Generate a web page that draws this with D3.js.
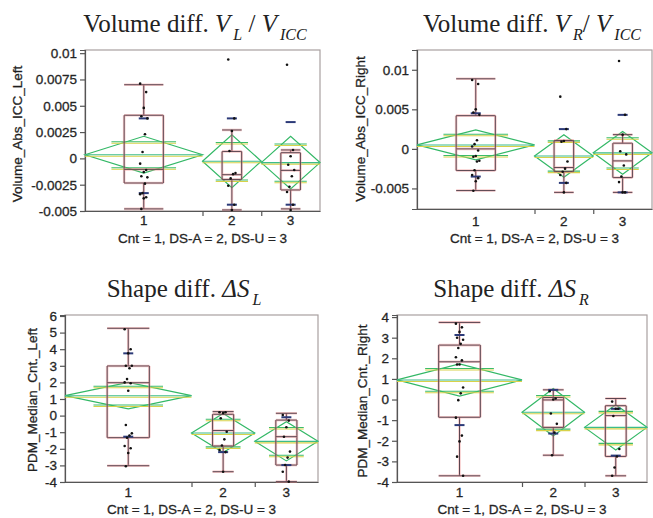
<!DOCTYPE html>
<html>
<head>
<meta charset="utf-8">
<script src="https://cdn.jsdelivr.net/npm/d3@7"></script>
<style>
body{margin:0;background:#fff}
svg{display:block}
.tick text,.lab{font-family:"Liberation Sans",Arial,sans-serif;font-size:13.5px;fill:#1e1e1e;stroke:#2a2a2a;stroke-width:0.3}
.title{font-family:"Liberation Serif","Times New Roman",serif;font-size:25px;fill:#222}
</style>
</head>
<body>
<svg id="chart" width="653" height="518"></svg>
<script>
// groups (x axis), widths follow group size like JMP does
var groups = ["1", "2", "3"];
var groupN = [20, 10, 10];
var xLabel = "Cnt = 1, DS-A  = 2, DS-U = 3";

// --- Volume diff left
var volLTicks = [-0.005, -0.0025, 0, 0.0025, 0.005, 0.0075, 0.01];
var volLBox = [
    {lo: -0.0048, q1: -0.00234, med: -0.00104, q3: 0.0041, hi: 0.007},
    {lo: -0.0049, q1: -0.002, med: -0.00155, q3: 0.00066, hi: 0.0027},
    {lo: -0.0048, q1: -0.003, med: -0.00114, q3: 0.00054, hi: 0.0008}
];
var volLQuant = [[0.0038, -0.0033], [0.0038, -0.0044], [0.00345, -0.0044]];
var volLMean = [0.00035, -0.00027, -0.0004];
var volLCI = [0.00175, 0.00252, 0.0025];
var volLPts = [
    [0.0071, 0.0063, 0.0048, 0.004, 0.0038, 0.0023, 0.0006, -0.0005, -0.0011, -0.0013, -0.0017, -0.0018, -0.0024, -0.0033, -0.0034, -0.0037, -0.0038, -0.0048],
    [0.0094, 0.0038, 0.0026, 0.0007, -0.0014, -0.0015, -0.0019, -0.0026, -0.0044, -0.0049],
    [0.0089, 0.0008, 0.0002, -0.0006, -0.0011, -0.0017, -0.0027, -0.0032, -0.0044, -0.0049]
];

// --- Volume diff right
var volRTicks = [-0.005, 0, 0.005, 0.01];
var volRBox = [
    {lo: -0.00527, q1: -0.00274, med: 0, q3: 0.0042, hi: 0.00886},
    {lo: -0.0055, q1: -0.00287, med: -0.00236, q3: 0.00105, hi: 0.00105},
    {lo: -0.0055, q1: -0.00363, med: -0.00152, q3: 0.00072, hi: 0.0018}
];
var volRQuant = [[0.0045, -0.0035], [0.0025, -0.0043], [0.0043, -0.0055]];
var volRMean = [0.0005, -0.0009, -0.0005];
var volRCI = [0.0019, 0.0027, 0.0027];
var volRPts = [
    [0.0087, 0.0082, 0.005, 0.0046, 0.0043, 0.0011, 0.0006, 0.0003, -0.0002, -0.0009, -0.001, -0.0015, -0.0016, -0.0027, -0.0033, -0.0037, -0.0041, -0.0053],
    [0.0066, 0.0025, 0.001, 0.0009, -0.0016, -0.0025, -0.0029, -0.0033, -0.0043, -0.0055],
    [0.0111, 0.0043, 0.0018, -0.0003, -0.0007, -0.0021, -0.0035, -0.0042, -0.0055, -0.0055]
];

// --- Shape diff left
var shpLTicks = [-4, -3, -2, -1, 0, 1, 2, 3, 4, 5, 6];
var shpLBox = [
    {lo: -3.02, q1: -1.33, med: 1.98, q3: 2.99, hi: 5.26},
    {lo: -3.38, q1: -1.83, med: -0.9, q3: 0.08, hi: 0.24},
    {lo: -3.98, q1: -2.98, med: -1.27, q3: -0.27, hi: 0.14}
];
var shpLQuant = [[3.75, -1.27], [-2.2], [-0.1, -2.98]];
var shpLMean = [1.2, -1.05, -1.55];
var shpLCI = [0.8, 1.18, 1.18];
var shpLPts = [
    [5.2, 4.0, 3.75, 3.0, 3.0, 2.85, 2.2, 2.0, 1.95, 1.5, -0.57, -1.07, -1.2, -1.33, -1.83, -1.97, -2.25, -3.05],
    [0.2, 0.2, 0.15, -0.16, -0.97, -1.43, -1.8, -2.07, -2.2, -3.38],
    [0.04, -0.3, -0.7, -1.27, -2.17, -2.53, -2.98, -3.38, -3.98]
];

// --- Shape diff right
var shpRTicks = [-4, -3, -2, -1, 0, 1, 2, 3, 4];
var shpRBox = [
    {lo: -3.7, q1: -0.86, med: 1.83, q3: 2.64, hi: 3.74},
    {lo: -2.7, q1: -1.35, med: -0.02, q3: 0.1, hi: 0.47},
    {lo: -3.7, q1: -2.76, med: -0.78, q3: -0.3, hi: 0.05}
];
var shpRQuant = [[3.13, -1.24], [0.47, -1.65], [-0.45, -2.72]];
var shpRMean = [0.95, -0.62, -1.35];
var shpRCI = [0.78, 1.15, 1.1];
var shpRPts = [
    [3.68, 3.5, 3.28, 3.0, 2.9, 2.7, 2.5, 2.05, 1.9, 1.7, 1.7, 0.58, 0.3, -0.03, -0.88, -1.75, -2.03, -2.77, -3.7],
    [0.4, 0.05, 0.0, -0.68, -1.18, -1.6, -2.7],
    [-0.1, -0.45, -0.45, -0.8, -2.4, -2.76, -3.3, -3.7]
];

var panels = [
    {yTitle: "Volume_Abs_ICC_Left", domain: [-0.005, 0.0103], ticks: volLTicks, box: volLBox, quant: volLQuant, mean: volLMean, ci: volLCI, pts: volLPts,
     title: [["Volume diff. "], ["V", 1], ["L", 1, 1], [" / "], ["V", 1], ["ICC", 1, 1]]},
    {yTitle: "Volume_Abs_ICC_Right", domain: [-0.0076, 0.0125], ticks: volRTicks, box: volRBox, quant: volRQuant, mean: volRMean, ci: volRCI, pts: volRPts,
     title: [["Volume diff. "], ["V", 1], ["R", 1, 1], ["/ "], ["V", 1], ["ICC", 1, 1]]},
    {yTitle: "PDM_Median_Cnt._Left", domain: [-4, 6.06], ticks: shpLTicks, box: shpLBox, quant: shpLQuant, mean: shpLMean, ci: shpLCI, pts: shpLPts,
     title: [["Shape diff. "], ["\u0394S", 1], ["L", 1, 1]]},
    {yTitle: "PDM_Median_Cnt._Right", domain: [-4, 4.1], ticks: shpRTicks, box: shpRBox, quant: shpRQuant, mean: shpRMean, ci: shpRCI, pts: shpRPts,
     title: [["Shape diff. "], ["\u0394S", 1], ["R", 1, 1]]}
];

// pixel layout of each panel
var layout = [
    {left: 85, right: 320, top: 50, bottom: 211, titleX: 195, titleY: 32, ylabX: 22, ylabY: 134, tickY: 225, labY: 243},
    {left: 417, right: 652, top: 50, bottom: 209, titleX: 532, titleY: 32, ylabX: 365, ylabY: 129, tickY: 226, labY: 243},
    {left: 65, right: 318, top: 315, bottom: 482, titleX: 184, titleY: 297, ylabX: 37, ylabY: 400, tickY: 497, labY: 514},
    {left: 397, right: 647, top: 315, bottom: 482, titleX: 511, titleY: 297, ylabX: 367, ylabY: 401, tickY: 497, labY: 514}
];

var svg = d3.select("#chart");

// dark line with the reddish fringe of the print
var seg = function(g, x1, y1, x2, y2, color, w) {
    g.append("line").attr("x1", x1).attr("y1", y1).attr("x2", x2).attr("y2", y2)
        .attr("stroke", "#f09090").attr("stroke-width", (w || 1) + 1.6).attr("opacity", 0.45);
    g.append("line").attr("x1", x1).attr("y1", y1).attr("x2", x2).attr("y2", y2)
        .attr("stroke", color || "#5a4550").attr("stroke-width", w || 1);
};

var drawPanel = function(p, L) {
    var g = svg.append("g");
    var total = d3.sum(groupN);
    var ends = d3.cumsum(groupN);
    var starts = groupN.map(function(n, i) { return ends[i] - n; });
    var x = d3.scaleLinear().domain([0, total]).range([L.left, L.right]);
    var y = d3.scaleLinear().domain(p.domain).range([L.bottom, L.top]);

    // frame
    g.append("rect").attr("x", L.left).attr("y", L.top)
        .attr("width", L.right - L.left).attr("height", L.bottom - L.top)
        .attr("fill", "none").attr("stroke", "#a8a0a0").attr("stroke-width", 1.2);

    // y axis
    var ya = g.append("g").attr("transform", "translate(" + L.left + ",0)")
        .call(d3.axisLeft(y).tickValues(p.ticks).tickFormat(String).tickSize(5).tickPadding(3));
    ya.selectAll("path,line").attr("stroke", "#555").attr("stroke-width", 1.2);

    // x axis: ticks at group boundaries, labels at group centres
    var xb = g.append("g").attr("transform", "translate(0," + L.bottom + ")")
        .call(d3.axisBottom(x).tickValues(ends.slice(0, -1)).tickFormat("").tickSize(5).tickSizeOuter(0));
    xb.selectAll("path,line").attr("stroke", "#555").attr("stroke-width", 1.2);
    g.selectAll(".xl").data(groups).enter().append("text").attr("class", "lab")
        .attr("x", function(d, i) { return x(starts[i] + groupN[i] / 2); })
        .attr("y", L.tickY).attr("text-anchor", "middle").text(function(d) { return d; });

    groups.forEach(function(name, i) {
        var n = groupN[i], s = starts[i];
        var cx = x(s + n / 2), bx0 = x(s + n / 3), bx1 = x(s + 2 * n / 3);
        var b = p.box[i];

        // mean diamond
        var m = p.mean[i], c = p.ci[i];
        var dx0 = x(s), dx1 = x(s + n), hw = (dx1 - dx0) / 2;
        g.append("path")
            .attr("d", "M" + dx0 + "," + y(m) + "L" + cx + "," + y(m + c) + "L" + dx1 + "," + y(m) + "L" + cx + "," + y(m - c) + "Z")
            .attr("fill", "none").attr("stroke", "#33b866").attr("stroke-width", 1.2);
        var ov = c / Math.SQRT2;
        [m + ov, m - ov].forEach(function(v) {
            g.append("line").attr("x1", cx - hw * 0.55).attr("x2", cx + hw * 0.55)
                .attr("y1", y(v) + 1.5).attr("y2", y(v) + 1.5).attr("stroke", "#d8d24a").attr("stroke-width", 1.1);
            g.append("line").attr("x1", cx - hw * 0.55).attr("x2", cx + hw * 0.55)
                .attr("y1", y(v)).attr("y2", y(v)).attr("stroke", "#3cbc6a").attr("stroke-width", 1.1);
        });
        g.append("line").attr("x1", dx0).attr("x2", dx1).attr("y1", y(m) + 1.5).attr("y2", y(m) + 1.5)
            .attr("stroke", "#d8d24a").attr("stroke-width", 1.1);
        g.append("line").attr("x1", dx0).attr("x2", dx1).attr("y1", y(m)).attr("y2", y(m))
            .attr("stroke", "#3cbc8a").attr("stroke-width", 1.1);

        // box plot
        seg(g, cx, y(b.hi), cx, y(b.q3));
        seg(g, cx, y(b.q1), cx, y(b.lo));
        seg(g, bx0, y(b.hi), bx1, y(b.hi));
        seg(g, bx0, y(b.lo), bx1, y(b.lo));
        seg(g, bx0, y(b.q3), bx1, y(b.q3));
        seg(g, bx0, y(b.q1), bx1, y(b.q1));
        seg(g, bx0, y(b.q3), bx0, y(b.q1));
        seg(g, bx1, y(b.q3), bx1, y(b.q1));
        seg(g, bx0, y(b.med), bx1, y(b.med));

        // quantile dashes
        p.quant[i].forEach(function(v) {
            g.append("line").attr("x1", cx - 5).attr("x2", cx + 5).attr("y1", y(v)).attr("y2", y(v))
                .attr("stroke", "#2c3a78").attr("stroke-width", 2);
        });

        // points
        g.selectAll(null).data(p.pts[i]).enter().append("circle")
            .attr("cx", function(d, j) { return cx + ((j * 5) % 7 - 3) * 1.2; })
            .attr("cy", function(d) { return y(d); })
            .attr("r", 1.3).attr("fill", "#111");
    });

    // labels
    g.append("text").attr("class", "lab").attr("x", (L.left + L.right) / 2).attr("y", L.labY)
        .attr("text-anchor", "middle").text(xLabel);
    g.append("text").attr("class", "lab")
        .attr("transform", "translate(" + L.ylabX + "," + L.ylabY + ") rotate(-90)")
        .attr("text-anchor", "middle").text(p.yTitle);

    var t = g.append("text").attr("class", "title").attr("x", L.titleX).attr("y", L.titleY).attr("text-anchor", "middle");
    var shifted = false;
    p.title.forEach(function(part) {
        var ts = t.append("tspan").text(part[0]);
        if (part[1]) ts.attr("font-style", "italic");
        if (part[2] && !shifted) { ts.attr("dy", 8).attr("font-size", "16px").attr("dx", 3); shifted = true; }
        else if (part[2]) { ts.attr("font-size", "16px"); }
        else if (shifted) { ts.attr("dy", -8); shifted = false; }
    });
};

panels.forEach(function(p, i) { drawPanel(p, layout[i]); });
</script>
</body>
</html>
